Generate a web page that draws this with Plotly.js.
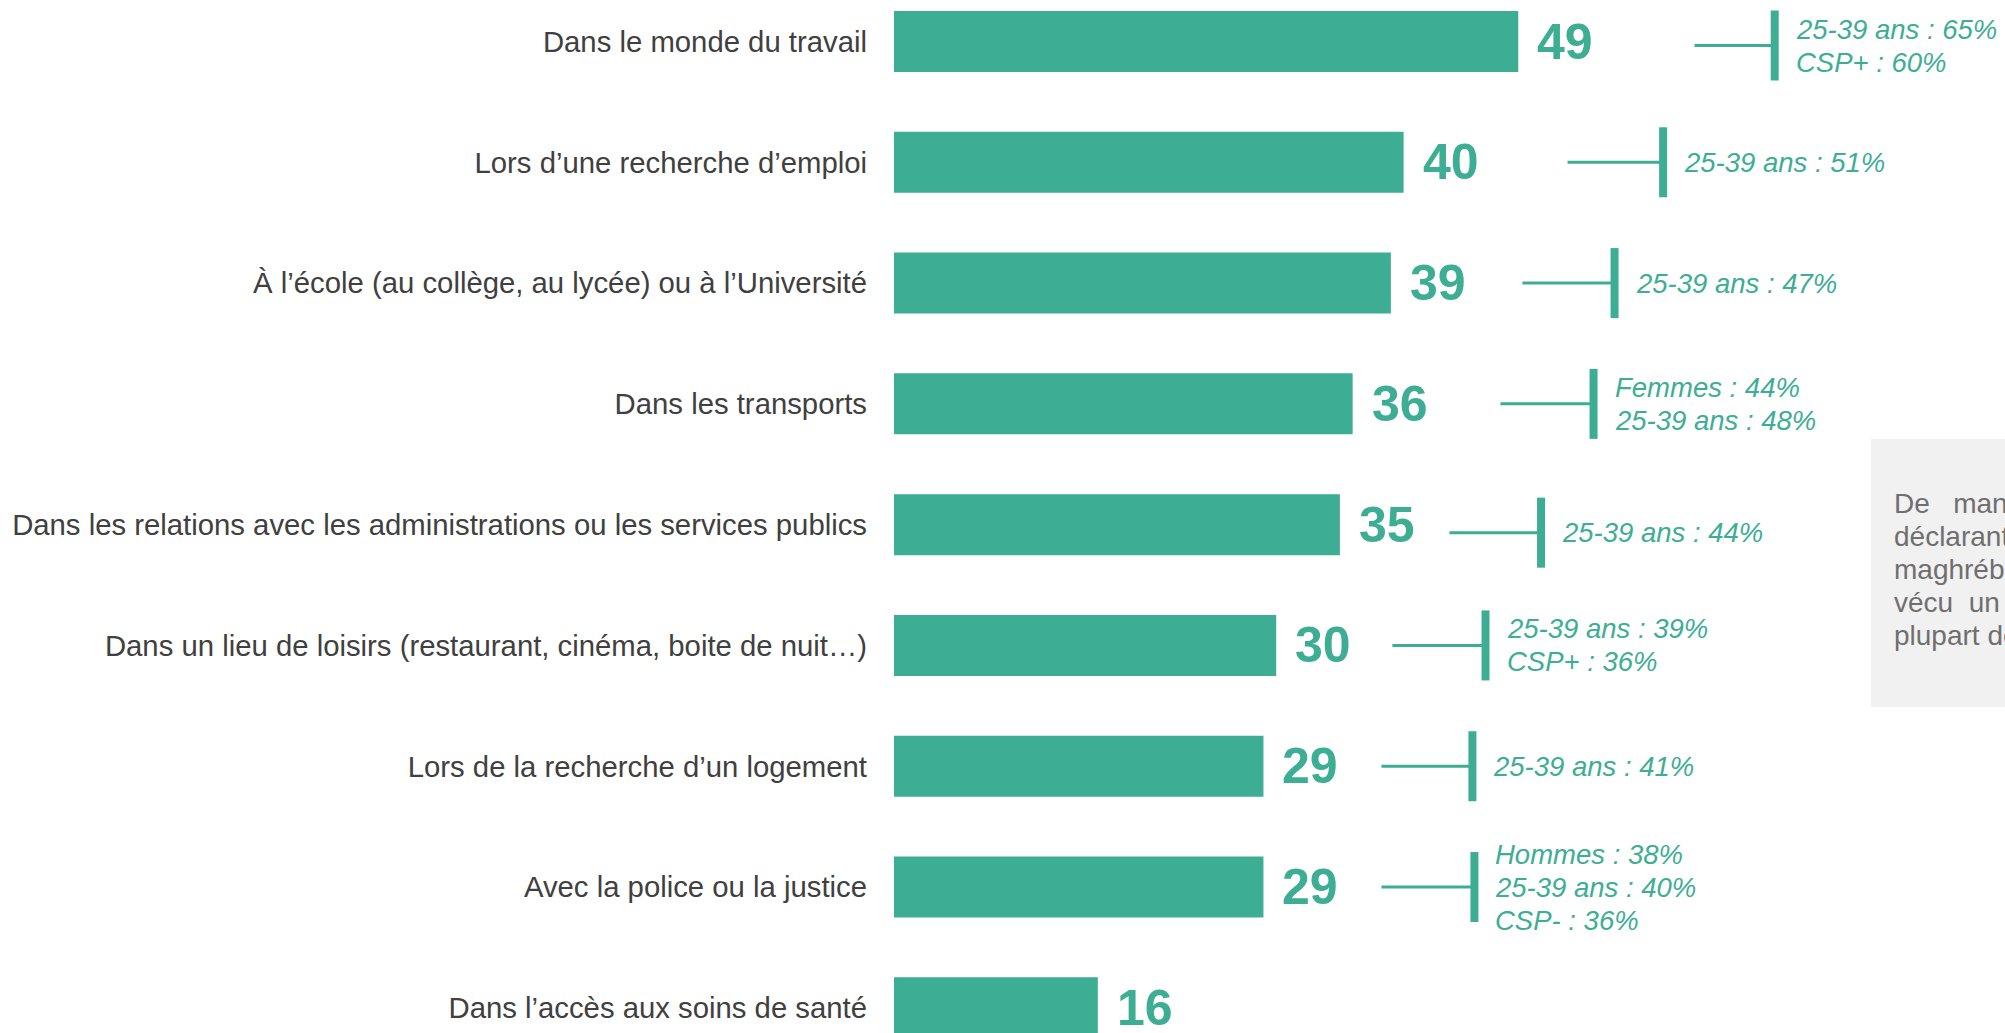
<!DOCTYPE html>
<html>
<head>
<meta charset="utf-8">
<script src="https://cdn.plot.ly/plotly-3.0.1.min.js"></script>
<style>
  html, body { margin: 0; padding: 0; background: #ffffff; overflow: hidden; }
  #chart { width: 2005px; height: 1033px; }
</style>
</head>
<body>
<div id="chart"></div>
<script>
// ---------- DATA ----------
const categories = [
  "Dans le monde du travail",
  "Lors d\u2019une recherche d\u2019emploi",
  "\u00C0 l\u2019\u00E9cole (au coll\u00E8ge, au lyc\u00E9e) ou \u00E0 l\u2019Universit\u00E9",
  "Dans les transports",
  "Dans les relations avec les administrations ou les services publics",
  "Dans un lieu de loisirs (restaurant, cin\u00E9ma, boite de nuit\u2026)",
  "Lors de la recherche d\u2019un logement",
  "Avec la police ou la justice",
  "Dans l\u2019acc\u00E8s aux soins de sant\u00E9"
];
const values = [49, 40, 39, 36, 35, 30, 29, 29, 16];
const subgroupNotes = [
  ["25-39 ans : 65%", "CSP+ : 60%"],
  ["25-39 ans : 51%"],
  ["25-39 ans : 47%"],
  ["Femmes : 44%", "25-39 ans : 48%"],
  ["25-39 ans : 44%"],
  ["25-39 ans : 39%", "CSP+ : 36%"],
  ["25-39 ans : 41%"],
  ["Hommes : 38%", "25-39 ans : 40%", "CSP- : 36%"],
  []
];
const sideNoteLines = [
  "De\u00A0\u00A0\u00A0mani\u00E8re g\u00E9n\u00E9rale, les personnes",
  "d\u00E9clarant \u00EAtre per\u00E7ues comme",
  "maghr\u00E9bines sont nombreuses \u00E0 avoir",
  "v\u00E9cu\u00A0\u00A0un traitement discriminatoire dans la",
  "plupart des situations"
];

// ---------- LAYOUT / STYLE CONSTANTS ----------
const W = 2005, H = 1033, LEFT = 894;
const PX_PER_UNIT = 12.74;         // pixels per percentage point
const ROW_PX = 120.79;             // pixels per category row
const FIRST_ROW_PX = 41.5;         // centre of first bar from top
const TEAL = "#3DAE94";
const FONT = "Liberation Sans, Arial, Helvetica, sans-serif";
// connector geometry (in axis units): [start of horizontal line, vertical bar position], vertical pixel offset
const connectorGeom = [
  [62.84, 69.13, 4], [52.87, 60.37, 0], [49.33, 56.56, 0], [47.60, 54.91, 0],
  [43.60, 50.79, 8], [39.12, 46.43, 0], [38.26, 45.40, 0], [38.26, 45.56, 0], null
];

const xMax = (W - LEFT) / PX_PER_UNIT;
const yTop = -FIRST_ROW_PX / ROW_PX;
const yBottom = yTop + H / ROW_PX;

const trace = {
  type: "bar",
  orientation: "h",
  y: categories,
  x: values,
  width: 0.505,
  marker: { color: TEAL, line: { width: 0 } },
  hoverinfo: "skip",
  cliponaxis: true
};

const annotations = [];
const shapes = [];

// value labels
values.forEach((v, i) => {
  annotations.push({
    x: v, y: categories[i], xref: "x", yref: "y",
    xanchor: "left", yanchor: "middle", xshift: 17,
    text: "<b>" + v + "</b>", showarrow: false,
    font: { family: FONT, size: 50, color: TEAL }
  });
});

// subgroup connectors and notes
subgroupNotes.forEach((lines, i) => {
  const g = connectorGeom[i];
  if (!g || lines.length === 0) return;
  const [hx, vx, off] = g;
  shapes.push({
    type: "line", xref: "x", yref: "y", ysizemode: "pixel", yanchor: i,
    x0: hx, x1: vx, y0: -off, y1: -off,
    line: { color: TEAL, width: 3 }
  });
  shapes.push({
    type: "line", xref: "x", yref: "y", ysizemode: "pixel", yanchor: i,
    x0: vx, x1: vx, y0: -off - 35, y1: -off + 35,
    line: { color: TEAL, width: 8 }
  });
  const n = lines.length;
  lines.forEach((t, k) => {
    annotations.push({
      x: vx, y: categories[i], xref: "x", yref: "y",
      xanchor: "left", yanchor: "middle", xshift: 19,
      yshift: -off - (k - (n - 1) / 2) * 33,
      text: "<i>" + t + "</i>", showarrow: false,
      font: { family: FONT, size: 27.5, color: TEAL }
    });
  });
});

// grey side box
const pxToPaperX = px => (px - LEFT) / (W - LEFT);
const pxToPaperY = py => 1 - py / H;
shapes.push({
  type: "rect", xref: "paper", yref: "paper", layer: "below",
  x0: pxToPaperX(1871), x1: 1.01, y0: pxToPaperY(707), y1: pxToPaperY(439),
  fillcolor: "#F1F1F1", line: { width: 0 }
});
sideNoteLines.forEach((t, k) => {
  annotations.push({
    x: pxToPaperX(1892), y: pxToPaperY(503 + k * 33),
    xref: "paper", yref: "paper", xanchor: "left", yanchor: "middle",
    text: t, showarrow: false,
    font: { family: FONT, size: 28, color: "#6F6F6F" }
  });
});

const layout = {
  width: W, height: H,
  margin: { l: LEFT, r: 0, t: 0, b: 0, pad: 0 },
  paper_bgcolor: "#ffffff", plot_bgcolor: "#ffffff",
  showlegend: false,
  hovermode: false,
  xaxis: {
    range: [0, xMax], visible: false, fixedrange: true,
    showgrid: false, zeroline: false
  },
  yaxis: {
    type: "category",
    categoryorder: "array", categoryarray: categories,
    range: [yBottom, yTop],
    showgrid: false, zeroline: false, showline: false,
    ticks: "", ticklabelstandoff: 26, automargin: false,
    tickfont: { family: FONT, size: 29.3, color: "#404040" },
    fixedrange: true
  },
  annotations: annotations,
  shapes: shapes
};

Plotly.newPlot("chart", [trace], layout, { displayModeBar: false, staticPlot: true });
</script>
</body>
</html>
